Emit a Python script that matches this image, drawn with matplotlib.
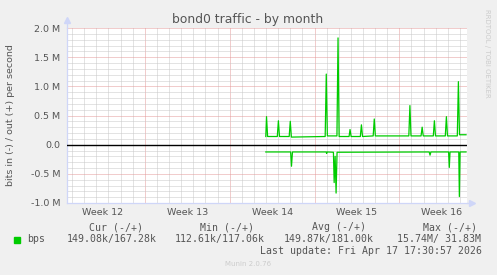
import matplotlib
matplotlib.use("Agg")
import matplotlib.pyplot as plt
from matplotlib.patches import Rectangle

GREEN, FONT, AXIS = "#00CC00", "#555555", "#CFD6F8"
MINOR, MAJOR, BACK = "#C8C8C8", "#E49A9A", "#F0F0F0"
W, H = 497, 275

# --- data: days from the left edge of the 33-day window, values in Mbit/s ---
out_days = [16.40, 16.46, 16.55, 17.35, 17.44, 17.53, 18.33, 18.42, 18.51,
            21.30, 21.39, 21.48, 22.27, 22.36, 22.45, 23.27, 23.35, 23.44,
            24.20, 24.29, 24.38, 25.26, 25.35, 25.44, 28.20, 28.29, 28.38,
            29.21, 29.30, 29.39, 30.22, 30.31, 30.40, 31.21, 31.30, 31.39,
            32.20, 32.29, 32.38, 32.92]
out_vals = [0.14, 0.48, 0.14, 0.14, 0.41, 0.14, 0.14, 0.40, 0.13,
            0.14, 1.21, 0.15, 0.15, 1.83, 0.14, 0.14, 0.26, 0.14,
            0.14, 0.34, 0.14, 0.15, 0.44, 0.15, 0.15, 0.67, 0.15,
            0.15, 0.30, 0.15, 0.15, 0.41, 0.15, 0.15, 0.48, 0.15,
            0.15, 1.08, 0.17, 0.17]
in_days = [16.40, 18.45, 18.52, 18.60, 21.38, 21.42, 21.47,
           21.98, 22.04, 22.12, 22.20, 22.28, 29.88, 29.95, 30.02,
           31.48, 31.54, 31.60, 32.32, 32.37, 32.43, 32.92]
in_vals = [-0.125, -0.125, -0.37, -0.125, -0.125, -0.15, -0.125,
           -0.13, -0.65, -0.20, -0.83, -0.13, -0.125, -0.18, -0.125,
           -0.125, -0.39, -0.125, -0.125, -0.89, -0.125, -0.125]

week_labels = ["Week 12", "Week 13", "Week 14", "Week 15", "Week 16"]
week_starts = [6.42, 13.42, 20.42, 27.42]
yticks = [-1.0, -0.5, 0.0, 0.5, 1.0, 1.5, 2.0]
ytick_labels = ["-1.0 M", "-0.5 M", "0.0", "0.5 M", "1.0 M", "1.5 M", "2.0 M"]

legend_head = ["Cur (-/+)", "Min (-/+)", "Avg (-/+)", "Max (-/+)"]
legend_vals = ["149.08k/167.28k", "112.61k/117.06k", "149.87k/181.00k", "15.74M/ 31.83M"]

def px(x, y):
    return x / W, 1 - y / H

fig = plt.figure(figsize=(W / 100, H / 100), dpi=100, facecolor=BACK)
ax = fig.add_axes([67 / W, 1 - 203 / H, 400 / W, 175 / H])
ax.set_xlim(0, 33); ax.set_ylim(-1.0, 2.0)

# --- grid: daily / 0.1M dotted grey, weekly / 0.5M dotted red ---
dot = dict(lw=0.72, ls=(0, (1, 1)), zorder=1)
for d in range(33):
    x = 0.42 + d
    ax.axvline(x, color=MAJOR if any(abs(x - w) < 0.01 for w in week_starts) else MINOR, **dot)
for i in range(-10, 21):
    ax.axhline(i / 10, color=MAJOR if i % 5 == 0 else MINOR, **dot)

ax.plot(out_days, out_vals, color=GREEN, lw=0.9, zorder=3)
ax.plot(in_days, in_vals, color=GREEN, lw=0.9, zorder=3)
ax.axhline(0, color="black", lw=1.0, zorder=4)

# --- axes styling ---
for s in ["top", "right"]:
    ax.spines[s].set_visible(False)
for s in ["left", "bottom"]:
    ax.spines[s].set_color(AXIS); ax.spines[s].set_linewidth(0.9)
ax.plot([0, 0], [1, 1.035], color=AXIS, lw=0.9, transform=ax.transAxes, clip_on=False)
ax.plot([1, 1.012], [0, 0], color=AXIS, lw=0.9, transform=ax.transAxes, clip_on=False)
ax.plot([0], [1.045], marker="^", ms=4.5, color=AXIS, transform=ax.transAxes, clip_on=False)
ax.plot([1.012], [0], marker=">", ms=4.5, color=AXIS, transform=ax.transAxes, clip_on=False)

ax.set_yticks(yticks); ax.set_yticklabels(ytick_labels)
ax.set_xticks([w - 3.5 for w in week_starts] + [week_starts[-1] + 3.5])
ax.set_xticklabels(week_labels)
ax.tick_params(length=0, labelsize=6.8, labelcolor=FONT)
ax.tick_params(axis="y", pad=4.8)
ax.tick_params(axis="x", pad=3.5)

fig.text(*px(248, 19), "bond0 traffic - by month", ha="center", va="center", fontsize=8.9, color=FONT)
fig.text(*px(11, 115.5), "bits in (-) / out (+) per second", rotation=90, ha="center", va="center",
         fontsize=6.8, color=FONT)
fig.text(*px(487.5, 53), "RRDTOOL / TOBI OETIKER", rotation=270, ha="center", va="center",
         fontsize=5, color="#CCCCCC")

# --- legend block ---
mono = dict(family="DejaVu Sans Mono", fontsize=7.1, color=FONT, va="center")
for x, t in zip([89.3, 200, 312.3, 422.7], legend_head):
    fig.text(*px(x, 227.3), t, ha="left", **mono)
fig.add_artist(Rectangle(px(14, 242.7), 5.5 / W, 5.5 / H, transform=fig.transFigure, color=GREEN))
fig.text(*px(26.7, 239.3), "bps", ha="left", **mono)
for x, t in zip([66.7, 175, 283.3, 397.3], legend_vals):
    fig.text(*px(x, 239.3), t, ha="left", **mono)
fig.text(*px(482.3, 250.7), "Last update: Fri Apr 17 17:30:57 2026", ha="right", **mono)
fig.text(*px(247.7, 264.3), "Munin 2.0.76", ha="center", va="center", fontsize=5, color="#CCCCCC")

fig.savefig("out.png", dpi=100, facecolor=BACK)
